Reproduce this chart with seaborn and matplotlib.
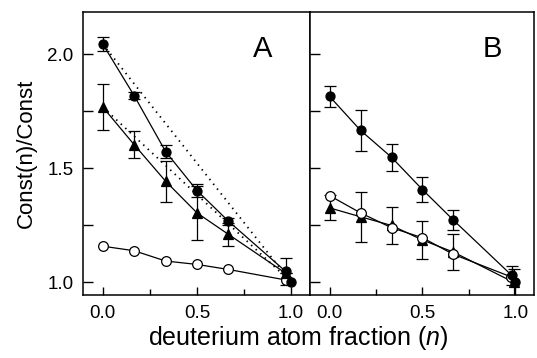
import numpy as np
import pandas as pd
import matplotlib
matplotlib.use("Agg")
import matplotlib.pyplot as plt
import seaborn as sns
from matplotlib.ticker import MultipleLocator

# ---------------------------------------------------------------
# data
n_pts = [0.0, 1/6, 1/3, 1/2, 2/3]

# panel A
a_fill_x = n_pts + [0.97]
a_fill_y = [2.044, 1.818, 1.573, 1.402, 1.268, 1.048]
a_fill_err = [0.03, 0.015, 0.03, 0.03, 0.015, 0.06]
a_tri_x = n_pts + [0.97]
a_tri_y = [1.768, 1.603, 1.443, 1.304, 1.21, 1.04]
a_tri_err = [0.1, 0.06, 0.09, 0.12, 0.05, 0.0]
a_open_x = n_pts + [0.97]
a_open_y = [1.158, 1.138, 1.093, 1.078, 1.056, 1.01]
# straight (theoretical) dotted lines
a_dot_x = [0.0, 1.0]
a_dot_fill = [2.044, 1.0]
a_dot_tri = [1.768, 1.0]

# panel B
b_fill_x = n_pts + [0.98]
b_fill_y = [1.815, 1.666, 1.548, 1.406, 1.272, 1.03]
b_fill_err = [0.045, 0.09, 0.06, 0.055, 0.045, 0.04]
b_open_x = n_pts + [0.975]
b_open_y = [1.38, 1.304, 1.239, 1.195, 1.122, 1.024]
b_tri_x = n_pts + [0.99]
b_tri_y = [1.326, 1.287, 1.249, 1.185, 1.132, 1.0]
b_tri_err = [0.055, 0.11, 0.083, 0.085, 0.08, 0.06]

# reference point n = 1
ref_x = [1.0]
ref_y = [1.0]

# ---------------------------------------------------------------
sns.set_style("ticks", {'axes.edgecolor': 'black', 'text.color': 'black',
                        'xtick.color': 'black', 'ytick.color': 'black',
                        'axes.labelcolor': 'black'})
plt.rcParams['font.family'] = ['Liberation Sans', 'DejaVu Sans']
plt.rcParams['mathtext.fontset'] = 'custom'
plt.rcParams['mathtext.rm'] = 'Liberation Sans'
plt.rcParams['mathtext.it'] = 'Liberation Sans:italic'

fig = plt.figure(figsize=(5.37, 3.58), dpi=100)
axA = fig.add_axes([0.1546, 0.176, 0.4227, 0.7905])
axB = fig.add_axes([0.5773, 0.176, 0.4172, 0.7905])


def draw_series(ax, x, y, err, marker, face, ms):
    df = pd.DataFrame({'n': x, 'r': y})
    if err is not None:
        ax.errorbar(x, y, yerr=err, fmt='none', ecolor='black', elinewidth=0.9,
                    capsize=4.5, capthick=0.9, zorder=2)
    sns.lineplot(data=df, x='n', y='r', ax=ax, color='black', linewidth=0.9,
                 sort=False, zorder=3)
    ax.plot(x, y, linestyle='none', marker=marker, markersize=ms,
            markerfacecolor=face, markeredgecolor='black', markeredgewidth=0.9, zorder=4)


# panel A
sns.lineplot(x=a_dot_x, y=a_dot_fill, ax=axA, color='black', linewidth=1.3,
             linestyle=(0, (0.8, 2.6)), zorder=1)
sns.lineplot(x=a_dot_x, y=a_dot_tri, ax=axA, color='black', linewidth=1.3,
             linestyle=(0, (0.8, 2.6)), zorder=1)
draw_series(axA, a_open_x, a_open_y, None, 'o', 'white', 7)
draw_series(axA, a_tri_x, a_tri_y, a_tri_err, '^', 'black', 6.5)
draw_series(axA, a_fill_x, a_fill_y, a_fill_err, 'o', 'black', 6.5)
axA.plot(ref_x, ref_y, 'o', color='black', markersize=6.5, zorder=4)

# panel B
draw_series(axB, b_tri_x, b_tri_y, b_tri_err, '^', 'black', 6.5)
draw_series(axB, b_open_x, b_open_y, None, 'o', 'white', 7)
draw_series(axB, b_fill_x, b_fill_y, b_fill_err, 'o', 'black', 6.5)
axB.plot(ref_x, ref_y, 'o', color='black', markersize=6.5, zorder=4)

for ax, lab, lx in [(axA, 'A', 263), (axB, 'B', 492)]:
    ax.set_xlim(-0.105, 1.10)
    ax.set_ylim(0.944, 2.185)
    ax.xaxis.set_major_locator(MultipleLocator(0.5))
    ax.xaxis.set_minor_locator(MultipleLocator(0.25))
    ax.yaxis.set_major_locator(MultipleLocator(0.5))
    ax.yaxis.set_minor_locator(MultipleLocator(0.25))
    ax.xaxis.set_major_formatter(plt.FuncFormatter(lambda v, _: f'{v:.1f}'))
    ax.yaxis.set_major_formatter(plt.FuncFormatter(lambda v, _: f'{v:.1f}'))
    ax.tick_params(axis='x', which='major', direction='in', length=6, width=1,
                   labelsize=13.5, pad=7, colors='black')
    ax.tick_params(axis='x', which='minor', direction='in', length=4, width=1,
                   colors='black')
    ax.tick_params(axis='y', which='both', direction='in', length=7, width=1,
                   labelsize=13.5, pad=7, colors='black')
    for sp in ax.spines.values():
        sp.set_visible(True)
        sp.set_linewidth(1.1)
        sp.set_color('black')
    ax.set_xlabel('')
    ax.set_ylabel('')
    ax.text(lx / 537, 1 - 49 / 358, lab, transform=fig.transFigure,
            ha='center', va='center', fontsize=21, color='black')

axB.tick_params(axis='y', which='both', labelleft=False)
axA.set_ylabel('Const(n)/Const', fontsize=16, labelpad=7, color='black')
fig.text(298 / 537, 1 - 338 / 358, 'deuterium atom fraction ($n$)',
         ha='center', va='center', fontsize=18, color='black')

plt.savefig('out.png', dpi=100)
